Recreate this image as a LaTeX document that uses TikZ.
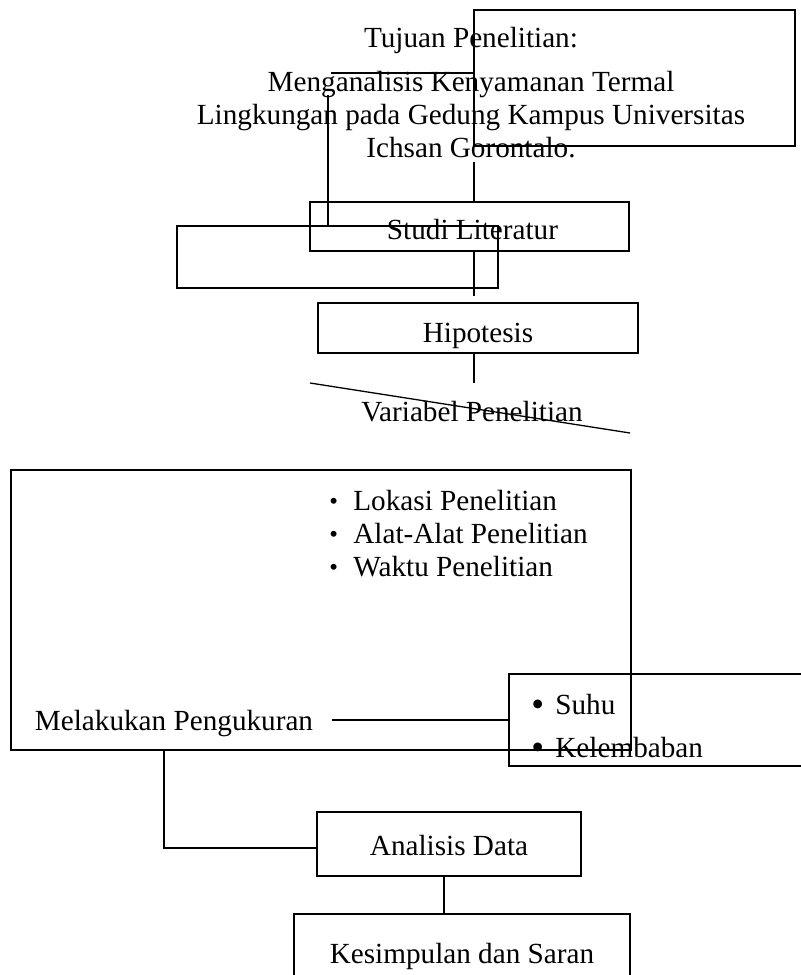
\documentclass[tikz,border=0pt]{standalone}
\usepackage{fontspec}
\setmainfont{Liberation Serif}
\usetikzlibrary{calc}

\newcommand{\smallbul}{\raisebox{.06em}{\scalebox{.85}{\textbullet}}}
\newcommand{\bigbul}{\raisebox{-.07em}{\scalebox{1.25}{\textbullet}}}
\newcommand{\shiftdown}[2]{\raisebox{-#1}[0pt][0pt]{#2}\vphantom{#2}}

\begin{document}
\begin{tikzpicture}[x=0.5pt,y=-0.5pt,
  every node/.style={font=\fontsize{14.6}{16.5}\selectfont},
  box/.style={draw,line width=.65pt,inner sep=0pt},
  ln/.style={line width=.65pt}]
\useasboundingbox (0,0) rectangle (801,975);
\clip (0,0) rectangle (801,975);
% frames
\node[box,minimum width=160.5pt,minimum height=68pt] (goalbox) at (634.5,78) {};
\node[box,minimum width=160.5pt,minimum height=31pt] (sidebox) at (337.5,257) {};
\node[box,minimum width=310pt,minimum height=140pt] (bigbox) at (321,610) {};
\node[box,minimum width=165.5pt,minimum height=46pt] (suhubox) at (674.5,720) {};
% texts and boxes
\node[align=center] (goal) at (471,93) {Tujuan Penelitian:\\[5.5pt]Menganalisis Kenyamanan Termal\\Lingkungan pada Gedung Kampus Universitas\\Ichsan Gorontalo.};
\node[box,minimum width=159.5pt,minimum height=24.5pt] (study) at (469.5,226.5) {\hspace*{3pt}\shiftdown{1.5pt}{Studi Literatur}};
\node[box,minimum width=160pt,minimum height=25pt] (hypo) at (478,328) {\shiftdown{4pt}{Hipotesis}};
\node (var) at (472,412) {Variabel Penelitian};
\node[anchor=west,align=left,inner sep=0pt] (prep) at (329,534) {\makebox[12pt][l]{\smallbul}Lokasi Penelitian\\\makebox[12pt][l]{\smallbul}Alat-Alat Penelitian\\\makebox[12pt][l]{\smallbul}Waktu Penelitian};
\node (measure) at (174,724) {Melakukan Pengukuran};
\node[anchor=west,align=left,inner sep=0pt] (vars) at (531,727) {\makebox[12pt][l]{\bigbul}Suhu\\[5pt]\makebox[12pt][l]{\bigbul}Kelembaban};
\node[box,minimum width=132pt,minimum height=32pt] (analysis) at (449,844) {\shiftdown{1pt}{Analisis Data}};
\node[box,minimum width=168pt,minimum height=39pt] (result) at (462,953) {\shiftdown{1.5pt}{Kesimpulan dan Saran}};
% loose ends
\coordinate (e1) at (331,73);
\coordinate (e2) at (328,95);
\coordinate (c1) at (474,162);
\coordinate (c2) at (474,296);
\coordinate (c3) at (474,383);
\coordinate (d1) at (310,383);
\coordinate (d2) at (630,433);
\coordinate (x1) at (164,0);
\coordinate (x2) at (444,0);
% connectors
\draw[ln] (e1) -- (e1 -| goalbox.west);
\draw[ln] (e2) -- (e2 |- sidebox.north);
\draw[ln] (c1) -- (c1 |- study.north);
\draw[ln] (study.south -| c1) -- (c2);
\draw[ln] (hypo.south -| c1) -- (c3);
\draw[ln] (d1) -- (d2);
\draw[ln] ([xshift=6pt]measure.east |- suhubox.west) -- (suhubox.west);
\draw[ln] (bigbox.south -| x1) |- ([yshift=-2pt]analysis.west);
\draw[ln] (analysis.south -| x2) -- (result.north -| x2);
\end{tikzpicture}
\end{document}
